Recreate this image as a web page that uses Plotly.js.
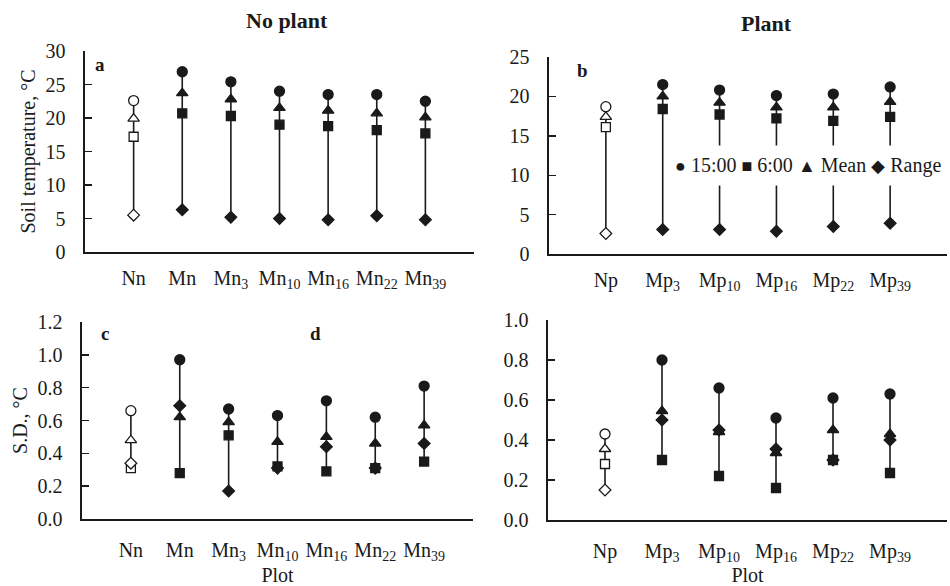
<!DOCTYPE html>
<html>
<head>
<meta charset="utf-8">
<script src="https://cdn.plot.ly/plotly-3.0.1.min.js"></script>
<style>html,body{margin:0;padding:0;background:#fff;}#chart{width:950px;height:586px;}</style>
</head>
<body>
<div id="chart"></div>
<script>
// ---------- data ----------
const catsNo = ['Nn','Mn','Mn3','Mn10','Mn16','Mn22','Mn39'];
const labelsNo = ['Nn','Mn','Mn<sub>3</sub>','Mn<sub>10</sub>','Mn<sub>16</sub>','Mn<sub>22</sub>','Mn<sub>39</sub>'];
const catsPl = ['Np','Mp3','Mp10','Mp16','Mp22','Mp39'];
const labelsPl = ['Np','Mp<sub>3</sub>','Mp<sub>10</sub>','Mp<sub>16</sub>','Mp<sub>22</sub>','Mp<sub>39</sub>'];

// (a) soil temperature, no plant
const a_t15   = [22.6, 26.9, 25.4, 24.0, 23.5, 23.5, 22.5];
const a_t6    = [17.2, 20.7, 20.3, 19.0, 18.8, 18.2, 17.7];
const a_mean  = [19.9, 23.7, 22.8, 21.5, 21.1, 20.7, 20.1];
const a_range = [5.5, 6.3, 5.2, 5.0, 4.8, 5.4, 4.8];
// (b) soil temperature, plant
const b_t15   = [18.7, 21.5, 20.8, 20.1, 20.3, 21.2];
const b_t6    = [16.1, 18.4, 17.7, 17.2, 16.9, 17.4];
const b_mean  = [17.4, 20.0, 19.2, 18.6, 18.6, 19.3];
const b_range = [2.6, 3.1, 3.1, 2.9, 3.5, 3.9];
// (c) S.D., no plant
const c_t15   = [0.66, 0.97, 0.67, 0.63, 0.72, 0.62, 0.81];
const c_t6    = [0.31, 0.28, 0.51, 0.32, 0.29, 0.31, 0.35];
const c_mean  = [0.48, 0.62, 0.59, 0.47, 0.50, 0.46, 0.57];
const c_range = [0.34, 0.69, 0.17, 0.31, 0.44, 0.31, 0.46];
// (d) S.D., plant
const d_t15   = [0.43, 0.80, 0.66, 0.51, 0.61, 0.63];
const d_t6    = [0.28, 0.30, 0.22, 0.16, 0.30, 0.235];
const d_mean  = [0.355, 0.545, 0.44, 0.335, 0.45, 0.43];
const d_range = [0.15, 0.50, 0.45, 0.355, 0.30, 0.40];

const seriesNames = ['15:00', '6:00', 'Mean', 'Range'];

// ---------- styling ----------
const INK = '#1a1a1a';
const FONT = '"Liberation Serif", "Times New Roman", serif';
const FS = 20;
const W = 950, H = 586;
const px = v => v / W;
const py = v => 1 - v / H;

function panelTraces(cats, t15, t6, mean, rng, xa, ya) {
  const lx = [], ly = [];
  cats.forEach((c, i) => {
    const vals = [t15[i], t6[i], mean[i], rng[i]];
    lx.push(c, c, null);
    ly.push(Math.min(...vals), Math.max(...vals), null);
  });
  const fill = cats.map((c, i) => i === 0 ? '#ffffff' : INK);
  const mk = (name, y, symbol, size) => ({
    type: 'scatter', mode: 'markers', name: name, x: cats, y: y,
    xaxis: xa, yaxis: ya, showlegend: false, cliponaxis: false,
    marker: {symbol: symbol, size: size, color: fill, line: {color: INK, width: 1.3}}
  });
  return [
    {type: 'scatter', mode: 'lines', x: lx, y: ly, xaxis: xa, yaxis: ya,
     showlegend: false, hoverinfo: 'skip', line: {color: INK, width: 1.6}},
    mk(seriesNames[1], t6, 'square', 9),
    mk(seriesNames[2], mean, 'triangle-up', 10),
    mk(seriesNames[0], t15, 'circle', 10),
    mk(seriesNames[3], rng, 'diamond', 9)
  ];
}

const data = [].concat(
  panelTraces(catsNo, a_t15, a_t6, a_mean, a_range, 'x', 'y'),
  panelTraces(catsPl, b_t15, b_t6, b_mean, b_range, 'x2', 'y2'),
  panelTraces(catsNo, c_t15, c_t6, c_mean, c_range, 'x3', 'y3'),
  panelTraces(catsPl, d_t15, d_t6, d_mean, d_range, 'x4', 'y4')
);

function xax(cats, labels, x0, x1, anchor, standoff, title) {
  const o = {
    type: 'category', domain: [px(x0), px(x1)], anchor: anchor,
    range: [-1, cats.length], tickmode: 'array', tickvals: cats, ticktext: labels,
    showline: true, linecolor: INK, linewidth: 1.6, ticks: '', showgrid: false, zeroline: false,
    ticklabelstandoff: standoff, tickfont: {family: FONT, size: FS, color: INK}
  };
  if (title) o.title = {text: title, font: {family: FONT, size: FS, color: INK}, standoff: 0};
  return o;
}
function yax(range, dtick, fmt, yTop, yBot, anchor, title) {
  const o = {
    domain: [py(yBot), py(yTop)], anchor: anchor, range: range, dtick: dtick, tick0: 0,
    tickformat: fmt, showline: true, linecolor: INK, linewidth: 1.6,
    ticks: 'inside', ticklen: 7, tickwidth: 1.4, tickcolor: INK,
    showgrid: false, zeroline: false, ticklabelstandoff: 14,
    tickfont: {family: FONT, size: FS, color: INK}
  };
  if (title) o.title = {text: title, font: {family: FONT, size: FS, color: INK}, standoff: 4};
  return o;
}

const sym = s => '<span style="font-size:18px">' + s + '</span>';
const lbl = (t, x, y) => ({text: '<b>' + t + '</b>', x: px(x), y: py(y), xref: 'paper', yref: 'paper',
  showarrow: false, font: {family: FONT, size: 19, color: INK}, xanchor: 'center', yanchor: 'middle'});

const layout = {
  width: W, height: H,
  margin: {l: 0, r: 0, t: 0, b: 0},
  paper_bgcolor: '#ffffff', plot_bgcolor: 'rgba(0,0,0,0)',
  font: {family: FONT, color: INK, size: FS},
  showlegend: false,
  xaxis:  xax(catsNo, labelsNo, 85, 474, 'y', 7),
  yaxis:  yax([0, 30], 5, '', 51, 252, 'x', 'Soil temperature, °C'),
  xaxis2: xax(catsPl, labelsPl, 549, 947, 'y2', 7),
  yaxis2: yax([0, 25], 5, '', 57, 254, 'x2'),
  xaxis3: xax(catsNo, labelsNo, 82, 473, 'y3', 12, 'Plot'),
  yaxis3: yax([0, 1.2], 0.2, '.1f', 322, 519, 'x3', 'S.D., °C'),
  xaxis4: xax(catsPl, labelsPl, 548, 947, 'y4', 12, 'Plot'),
  yaxis4: yax([0, 1.0], 0.2, '.1f', 320, 520, 'x4'),
  annotations: [
    {text: '<b>No plant</b>', x: px(287), y: py(21), xref: 'paper', yref: 'paper', showarrow: false,
     font: {family: FONT, size: 22, color: INK}, xanchor: 'center', yanchor: 'middle'},
    {text: '<b>Plant</b>', x: px(766), y: py(23), xref: 'paper', yref: 'paper', showarrow: false,
     font: {family: FONT, size: 22, color: INK}, xanchor: 'center', yanchor: 'middle'},
    lbl('a', 100, 65), lbl('b', 582, 70), lbl('c', 105, 333), lbl('d', 315, 333),
    {text: sym('●') + ' ' + seriesNames[0] + ' ' + sym('■') + ' ' + seriesNames[1] + ' ' +
           sym('▲') + ' ' + seriesNames[2] + ' ' + sym('◆') + ' ' + seriesNames[3],
     x: px(950), y: py(165), xref: 'paper', yref: 'paper', showarrow: false,
     xanchor: 'right', yanchor: 'middle', bgcolor: '#ffffff', borderpad: 8,
     font: {family: FONT, size: 20, color: INK}}
  ]
};

Plotly.newPlot('chart', data, layout, {staticPlot: true, displayModeBar: false});
</script>
</body>
</html>
